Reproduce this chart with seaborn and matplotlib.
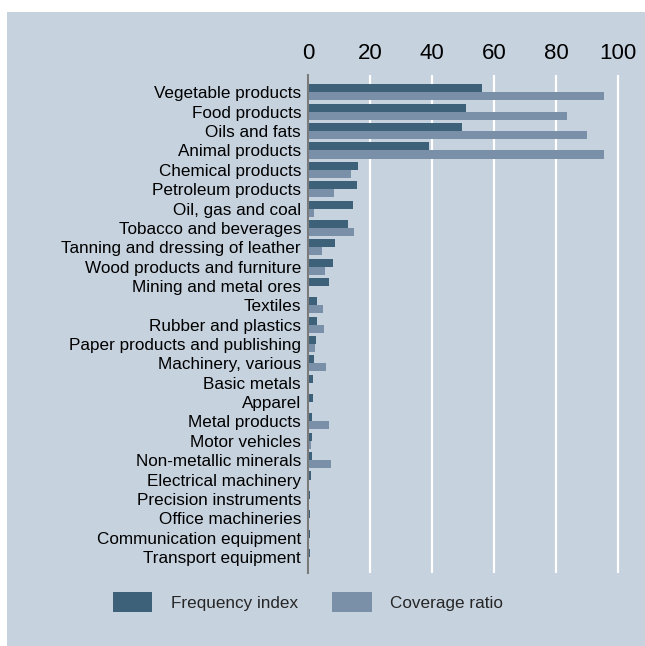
import pandas as pd
import numpy as np
import matplotlib.pyplot as plt
import seaborn as sns
from matplotlib.patches import Rectangle, Patch

# Data
categories = [
    "Vegetable products", "Food products", "Oils and fats", "Animal products",
    "Chemical products", "Petroleum products", "Oil, gas and coal",
    "Tobacco and beverages", "Tanning and dressing of leather",
    "Wood products and furniture", "Mining and metal ores", "Textiles",
    "Rubber and plastics", "Paper products and publishing",
    "Machinery, various", "Basic metals", "Apparel", "Metal products",
    "Motor vehicles", "Non-metallic minerals", "Electrical machinery",
    "Precision instruments", "Office machineries",
    "Communication equipment", "Transport equipment",
]
frequency_index = [56, 51, 49.8, 39, 16, 15.8, 14.5, 13, 8.6, 8.2, 6.7, 2.8,
                   2.8, 2.5, 1.8, 1.5, 1.5, 1.3, 1.3, 1.3, 1.0, 0.8, 0.5, 0.5, 0.5]
coverage_ratio = [95.5, 83.5, 90, 95.5, 13.9, 8.5, 1.8, 14.8, 4.5, 5.4, 0.3, 4.7,
                  5.0, 2.2, 5.7, 0.3, 0.3, 6.7, 1.0, 7.3, 0.3, 0.2, 0.2, 0.2, 0.1]
series_names = ["Frequency index", "Coverage ratio"]
xticks = [0, 20, 40, 60, 80, 100]

bg = "#c6d2de"
dark = "#3d6179"
light = "#7a90a8"

df = pd.DataFrame({
    "category": categories * 2,
    "value": frequency_index + coverage_ratio,
    "series": [series_names[0]] * len(categories) + [series_names[1]] * len(categories),
})

sns.set_style("white")
plt.rcParams["font.family"] = ["Liberation Sans", "DejaVu Sans"]

fig = plt.figure(figsize=(6.45, 6.46), dpi=100)
fig.patch.set_facecolor("white")
fig.patches.append(Rectangle((7 / 645, 0), 1 - 7 / 645, 1 - 12 / 646,
                             transform=fig.transFigure, facecolor=bg,
                             edgecolor="none", zorder=-10))

ax = fig.add_axes([308 / 645, 1 - 573 / 646, (645 - 308) / 645, (573 - 75) / 646])
ax.set_facecolor(bg)

sns.barplot(data=df, y="category", x="value", hue="series", orient="h",
            palette=[dark, light], width=0.83, dodge=True, ax=ax,
            legend=False, linewidth=0, saturation=1)

ax.set_xlim(0, 108.7)
ax.set_ylim(len(categories) - 1 + 0.83, -0.9)
ax.set_xticks(xticks)
ax.xaxis.tick_top()
ax.tick_params(axis="x", length=0, pad=8, labelsize=16, labelcolor="black")
ax.tick_params(axis="y", length=0, pad=5, labelsize=12.3, labelcolor="black")
ax.set_xlabel("")
ax.set_ylabel("")
ax.grid(axis="x", color="white", linewidth=1.6)
ax.grid(axis="y", visible=False)
ax.set_axisbelow(True)
for side in ["top", "right", "bottom"]:
    ax.spines[side].set_visible(False)
ax.spines["left"].set_color("#7a7a7a")
ax.spines["left"].set_linewidth(1.5)
ax.spines["left"].set_zorder(5)

handles = [Patch(facecolor=dark, edgecolor="none"), Patch(facecolor=light, edgecolor="none")]
fig.legend(handles, series_names, loc="center left",
           bbox_to_anchor=(113 / 645, 1 - 602 / 646), ncol=2, frameon=False,
           fontsize=12.3, handlelength=2.3, handleheight=1.5, handletextpad=1.1,
           columnspacing=2.0, borderpad=0, borderaxespad=0)

fig.savefig("out.png", dpi=100, facecolor="white")
